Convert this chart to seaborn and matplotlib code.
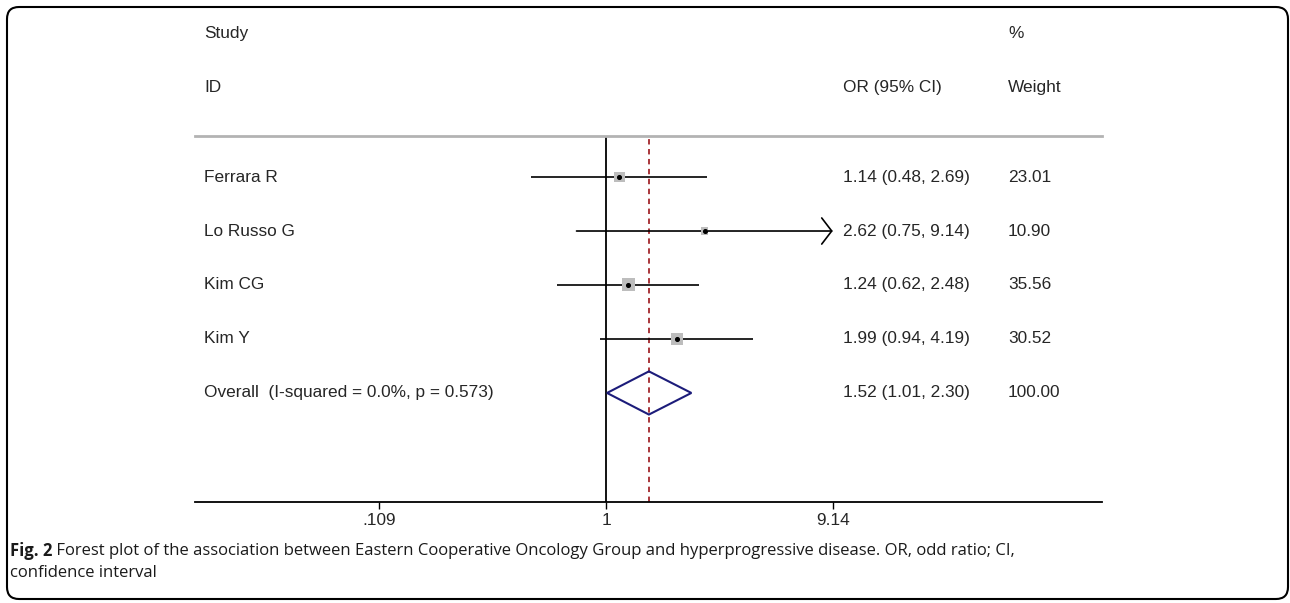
import matplotlib
matplotlib.use("Agg")
import matplotlib.pyplot as plt
import matplotlib.transforms as mtransforms
from matplotlib.patches import FancyBboxPatch
from matplotlib.ticker import NullLocator
import numpy as np
import pandas as pd
import seaborn as sns

# data
studies = ["Ferrara R", "Lo Russo G", "Kim CG", "Kim Y"]
or_est = [1.14, 2.62, 1.24, 1.99]
ci_low = [0.48, 0.75, 0.62, 0.94]
ci_high = [2.69, 9.14, 2.48, 4.19]
weights = [23.01, 10.90, 35.56, 30.52]

overall_label = "Overall  (I-squared = 0.0%, p = 0.573)"
overall_or = 1.52
overall_low = 1.01
overall_high = 2.30
overall_weight = 100.00

xticks = [0.109, 1, 9.14]
xtick_labels = [".109", "1", "9.14"]

caption_bold = "Fig. 2"
caption_line1 = " Forest plot of the association between Eastern Cooperative Oncology Group and hyperprogressive disease. OR, odd ratio; CI,"
caption_line2 = "confidence interval"

df = pd.DataFrame({"study": studies, "or": or_est, "low": ci_low,
                   "high": ci_high, "weight": weights})
df["row"] = np.arange(1, len(df) + 1)
overall_row = len(df) + 1

# 画布设置
sns.set_theme(style="white")
plt.rcParams['font.family'] = ['Liberation Sans', 'DejaVu Sans']
W, H = 1290, 603
fig = plt.figure(figsize=(W / 100, H / 100), dpi=100)


def px_box(x0, y0, x1, y1):
    return [x0 / W, 1 - y1 / H, (x1 - x0) / W, (y1 - y0) / H]


ax = fig.add_axes(px_box(195, 136, 1102, 502))
ax.set_xscale('log')
ax.set_xlim(0.01813, 126.4)
ax.set_ylim(7.02, 0.24)

txt_color = '#262626'
fs = 12.4

# reference lines
ax.axvline(1, color='black', lw=1.3, zorder=1)
ax.axvline(overall_or, color='#a3262b', lw=1.3, ls=(0, (3, 2.5)), zorder=1)

# confidence intervals (clipped ones get an arrow)
clip_max = max(xticks)
clipped = df["high"] >= clip_max
ax.hlines(df.loc[~clipped, "row"], df.loc[~clipped, "low"], df.loc[~clipped, "high"],
          color='black', lw=1.2, zorder=2)
for _, r in df[clipped].iterrows():
    ax.annotate('', xy=(clip_max, r["row"]), xytext=(r["low"], r["row"]),
                arrowprops=dict(arrowstyle='->,head_length=0.72,head_width=0.94',
                                color='black', lw=1.2, shrinkA=0, shrinkB=0,
                                mutation_scale=10), zorder=2)

# weight squares + point estimate
sns.scatterplot(data=df, x="or", y="row", size="weight", sizes=(0, 246.5),
                size_norm=(0, 100), marker='s', color='#bdbdbd', edgecolor='none',
                legend=False, ax=ax, zorder=3)
ax.scatter(df["or"], df["row"], s=7, color='black', zorder=4)

# overall diamond
ax.fill([overall_low, overall_or, overall_high, overall_or],
        [overall_row, overall_row - 0.4, overall_row, overall_row + 0.4],
        facecolor='none', edgecolor='#1c1c7a', lw=1.5, zorder=3)

# axes styling
for s in ['left', 'right']:
    ax.spines[s].set_visible(False)
ax.spines['bottom'].set_color('black')
ax.spines['bottom'].set_linewidth(1.3)
ax.spines['top'].set_color('#b3b3b3')
ax.spines['top'].set_linewidth(2)
ax.set_xticks(xticks)
ax.set_xticklabels(xtick_labels)
ax.xaxis.set_minor_locator(NullLocator())
ax.tick_params(axis='x', bottom=True, direction='out', length=5, width=1,
               color='black', labelsize=fs, labelcolor=txt_color, pad=3)
ax.set_yticks([])
ax.set_xlabel("")
ax.set_ylabel("")
ax.patch.set_alpha(0)

# text columns
trans = mtransforms.blended_transform_factory(ax.transAxes, ax.transData)
col_id, col_or, col_w = 0.0099, 0.7144, 0.8964
hdr = dict(transform=trans, va='center', ha='left', fontsize=fs, color=txt_color, clip_on=False)
ax.text(col_id, -1.667, "Study", **hdr)
ax.text(col_id, -0.667, "ID", **hdr)
ax.text(col_or, -0.667, "OR (95% CI)", **hdr)
ax.text(col_w, -1.667, "%", **hdr)
ax.text(col_w, -0.667, "Weight", **hdr)

for _, r in df.iterrows():
    ax.text(col_id, r["row"], r["study"], **hdr)
    ax.text(col_or, r["row"], f"{r['or']:.2f} ({r['low']:.2f}, {r['high']:.2f})", **hdr)
    ax.text(col_w, r["row"], f"{r['weight']:.2f}", **hdr)
ax.text(col_id, overall_row, overall_label, **hdr)
ax.text(col_or, overall_row, f"{overall_or:.2f} ({overall_low:.2f}, {overall_high:.2f})", **hdr)
ax.text(col_w, overall_row, f"{overall_weight:.2f}", **hdr)

# caption
cap_font = ['Open Sans', 'DejaVu Sans']
cap_fs = 12.0
x0 = 10
t1 = fig.text(x0 / W, 1 - 551 / H, caption_bold, fontsize=cap_fs, weight='bold',
              family=cap_font, va='center', color='#1a1a1a')
fig.canvas.draw()
r = fig.canvas.get_renderer()
e1 = t1.get_window_extent(r)
t2 = fig.text(e1.x1 / W, 1 - 551 / H, caption_line1, fontsize=cap_fs,
              family=cap_font, va='center', color='#1a1a1a')
fig.canvas.draw()
e2 = t2.get_window_extent(r)
scale = (1013 - x0) / (e2.x1 - x0)
cap_fs = cap_fs * scale
t1.set_fontsize(cap_fs)
fig.canvas.draw()
e1 = t1.get_window_extent(r)
t2.set_fontsize(cap_fs)
t2.set_x(e1.x1 / W)
fig.text(x0 / W, 1 - 573 / H, caption_line2, fontsize=cap_fs,
         family=cap_font, va='center', color='#1a1a1a')

# rounded border
border = FancyBboxPatch((7, 4), 1281, 592, boxstyle="round,pad=0,rounding_size=12",
                        transform=mtransforms.IdentityTransform(),
                        facecolor='none', edgecolor='black', lw=1.5)
fig.add_artist(border)

fig.savefig('out.png', dpi=100)
